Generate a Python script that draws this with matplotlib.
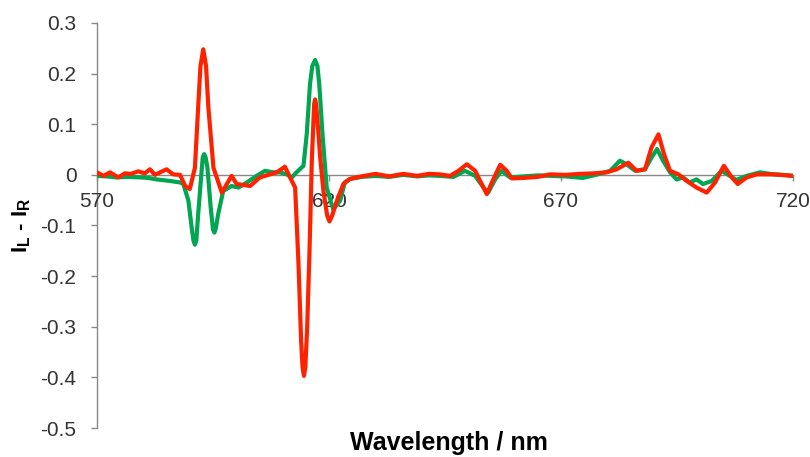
import matplotlib
matplotlib.use("Agg")
import matplotlib.pyplot as plt

# green trace (wavelength nm, I_L - I_R), rows of ten
green_wl = [570, 572, 574.2, 576.5, 579.3, 581, 582.9, 585.7, 587.9, 588.6,
            589.7, 590.4, 590.8, 591.1, 591.4, 591.8, 592.6, 592.8, 593.1, 593.4,
            593.8, 594.5, 595.0, 595.3, 595.6, 596.1, 597.2, 599.0, 600.5, 602.3,
            604.4, 606.2, 608.0, 609.4, 610.9, 612.0, 613.0, 614.5, 615.2, 615.9,
            616.4, 617.0, 617.5, 617.9, 618.6, 619.5, 620.9, 622.4, 623.4, 624.5,
            627, 630, 633, 636, 639, 641.5, 643.9, 646.8, 649.3, 651.5,
            653.3, 654.3, 655.8, 657.2, 659.0, 662, 665, 668, 671, 674.7,
            677.5, 680.6, 682.7, 684.1, 686.0, 688.1, 689.5, 690.7, 692.0, 693.5,
            694.9, 696.3, 697.7, 699.2, 700.6, 702.5, 704.6, 706.4, 707.8, 710.0,
            712.9, 715.8, 718, 720]
green_val = [-0.002, -0.003, -0.005, -0.004, -0.005, -0.006, -0.009, -0.012, -0.015, -0.018,
             -0.051, -0.104, -0.13, -0.138, -0.13, -0.078, 0.014, 0.035, 0.041, 0.035,
             0.014, -0.064, -0.108, -0.114, -0.106, -0.078, -0.032, -0.022, -0.025, -0.015,
             -0.002, 0.008, 0.005, 0.005, 0.001, -0.005, 0.005, 0.018, 0.08, 0.179,
             0.215, 0.227, 0.215, 0.179, 0.08, -0.025, -0.068, -0.051, -0.015, -0.008,
             -0.004, -0.002, -0.004, 0.0, -0.003, -0.001, -0.002, -0.004, 0.008, -0.002,
             -0.025, -0.035, -0.009, 0.008, -0.005, -0.003, -0.001, -0.002, -0.003, -0.006,
             0.0, 0.008, 0.028, 0.021, 0.008, 0.011, 0.034, 0.051, 0.028, 0.005,
             -0.009, -0.005, -0.015, -0.009, -0.018, -0.012, 0.008, -0.002, -0.01, -0.002,
             0.005, 0.001, 0.0, -0.002]

# red trace, rows of ten
red_wl = [570, 571.4, 572.8, 574.6, 576.0, 577.3, 578.9, 580.3, 581.4, 582.5,
          583.6, 585.0, 586.4, 587.9, 589.0, 590.0, 591.1, 591.8, 592.3, 592.9,
          593.5, 594.0, 595.1, 596.9, 599.0, 600.1, 603.0, 605.1, 607.3, 608.7,
          610.5, 611.6, 612.7, 613.4, 614.0, 614.3, 614.6, 614.9, 615.3, 615.8,
          616.3, 616.8, 617.0, 617.2, 617.5, 618.1, 618.8, 619.6, 620.1, 620.7,
          621.7, 623.1, 624.5, 627, 630, 633, 636, 639, 641.5, 643.9,
          646.1, 647.9, 649.7, 651.5, 652.9, 654.0, 655.4, 656.9, 658.3, 659.4,
          662, 665, 667.6, 671, 674.1, 677, 679.8, 682.0, 684.5, 686.3,
          688.1, 689.5, 691.0, 692.2, 693.5, 695.3, 697.1, 699.2, 701.4, 703.2,
          705.1, 706.8, 708.1, 710.0, 712.2, 715.8, 720]
red_val = [0.005, -0.002, 0.005, -0.005, 0.003, 0.002, 0.007, 0.003, 0.011, 0.0,
           0.005, 0.011, 0.001, 0.0, -0.022, -0.028, 0.014, 0.133, 0.215, 0.248,
           0.215, 0.133, 0.014, -0.035, -0.002, -0.018, -0.022, -0.005, 0.001, 0.005,
           0.016, -0.005, -0.025, -0.17, -0.33, -0.38, -0.397, -0.38, -0.3, -0.15,
           0.03, 0.14, 0.149, 0.14, 0.11, 0.034, -0.032, -0.08, -0.092, -0.08,
           -0.051, -0.018, -0.008, -0.003, 0.002, -0.003, 0.002, -0.002, 0.002, 0.001,
           -0.002, 0.008, 0.021, 0.008, -0.018, -0.038, -0.009, 0.02, 0.008, -0.007,
           -0.006, -0.004, 0.001, 0.0, 0.002, 0.003, 0.005, 0.011, 0.024, 0.008,
           0.011, 0.054, 0.08, 0.041, 0.008, 0.001, -0.012, -0.025, -0.035, -0.015,
           0.018, -0.005, -0.018, -0.005, 0.001, 0.001, -0.002]

x_ticks = [570, 620, 670, 720]
y_ticks = [-0.5, -0.4, -0.3, -0.2, -0.1, 0, 0.1, 0.2, 0.3]

plt.rcParams["font.family"] = ["Liberation Sans", "DejaVu Sans"]
plt.rcParams["axes.unicode_minus"] = False
plt.rcParams["mathtext.fontset"] = "custom"
plt.rcParams["mathtext.rm"] = "Liberation Sans"
plt.rcParams["mathtext.bf"] = "Liberation Sans:bold"

fig = plt.figure(figsize=(8.1, 4.57), dpi=100)
ax = fig.add_axes([97 / 810, 1 - 428 / 457, (793 - 97) / 810, (428 - 23) / 457])

ax.plot(green_wl, green_val, color="#00A651", lw=3.0, solid_joinstyle="round",
        solid_capstyle="round", zorder=3)
ax.plot(red_wl, red_val, color="#FF2200", lw=3.0, solid_joinstyle="round",
        solid_capstyle="round", zorder=4)

ax.set_xlim(570, 720)
ax.set_ylim(-0.5, 0.3)

ax.spines["top"].set_visible(False)
ax.spines["right"].set_visible(False)
ax.spines["bottom"].set_position(("data", 0))
for s in ("left", "bottom"):
    ax.spines[s].set_color("#888888")
    ax.spines[s].set_linewidth(1.0)
    ax.spines[s].set_zorder(1)

ax.set_xticks(x_ticks)
ax.set_xticklabels([str(t) for t in x_ticks])
ax.set_yticks(y_ticks)
ax.set_yticklabels(["0" if t == 0 else f"{t:.1f}" for t in y_ticks])
ax.tick_params(axis="both", colors="#888888", labelcolor="#333333", labelsize=15,
               length=4.3, width=1.0, direction="out")
ax.tick_params(axis="x", pad=8)
ax.tick_params(axis="y", pad=10.5)

fig.text(449 / 810, 1 - 450 / 457, "Wavelength / nm", ha="center", va="baseline",
         fontsize=18, fontweight="bold", color="black")
fig.text(21.5 / 810, 1 - 225 / 457, r"I$_\mathbf{L}$ - I$_\mathbf{R}$", rotation=90,
         ha="center", va="center", fontsize=16, fontweight="bold", color="black")

fig.savefig("out.png", dpi=100)
